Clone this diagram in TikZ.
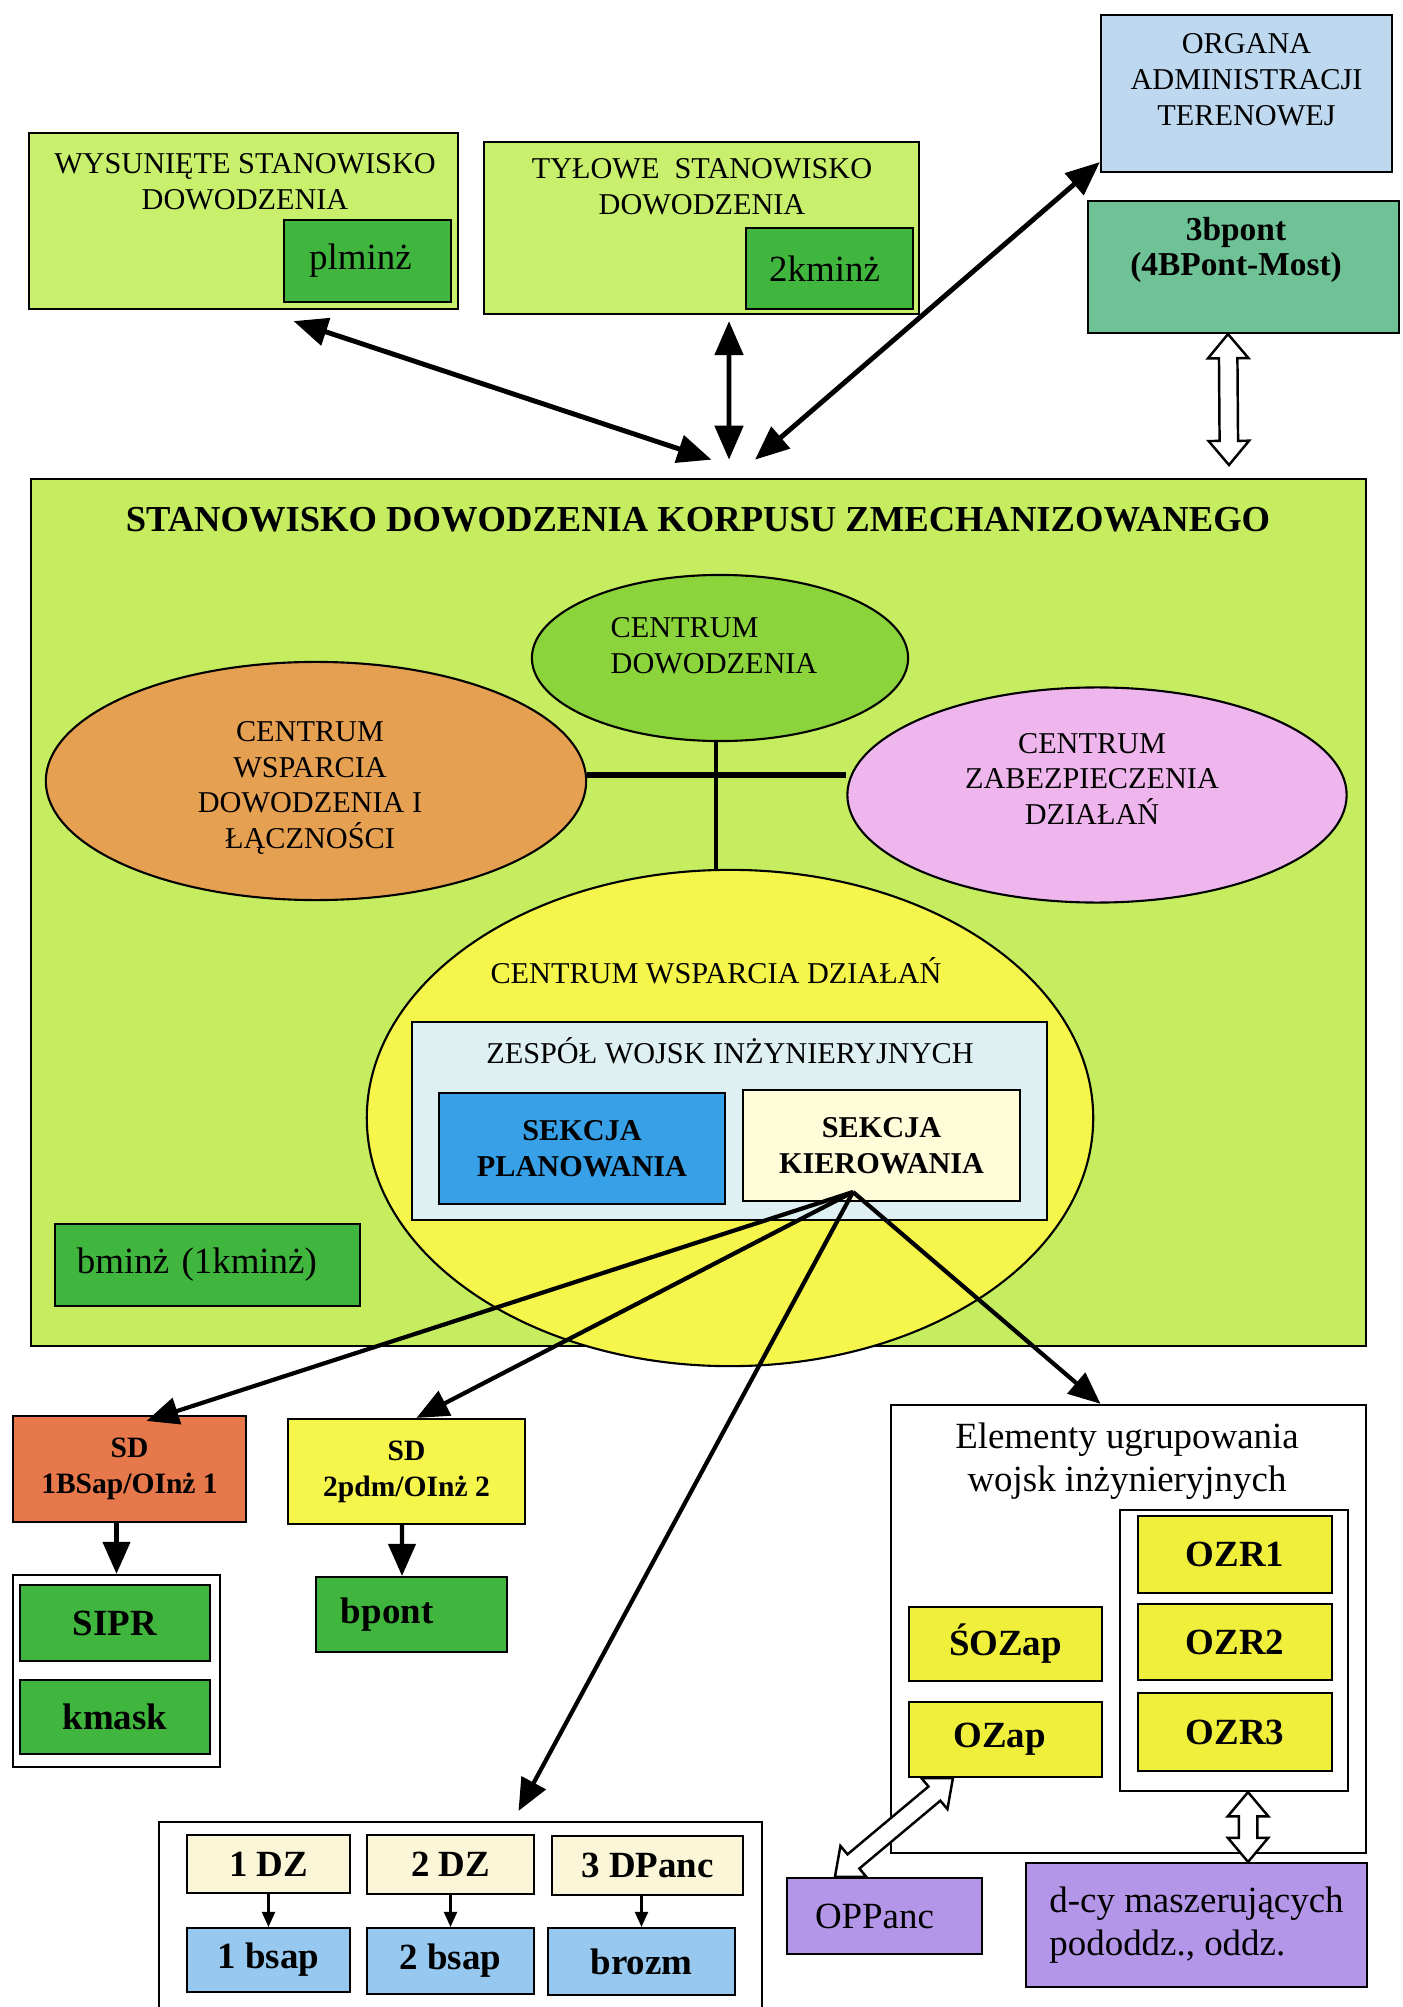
\documentclass[tikz,border=0pt]{standalone}
\usepackage{fontspec}
\setmainfont{Liberation Serif}
\usetikzlibrary{arrows.meta,shapes.geometric,shapes.arrows,calc}

\definecolor{lgreen}{RGB}{200,240,108}
\definecolor{mgreen}{RGB}{197,237,95}
\definecolor{dgreen}{RGB}{64,182,62}
\definecolor{orgblue}{RGB}{190,216,240}
\definecolor{tealgreen}{RGB}{110,194,150}
\definecolor{cdgreen}{RGB}{140,212,60}
\definecolor{corange}{RGB}{230,160,82}
\definecolor{cpink}{RGB}{238,182,236}
\definecolor{cyellow}{RGB}{245,245,75}
\definecolor{zcyan}{RGB}{222,240,242}
\definecolor{sblue}{RGB}{55,160,230}
\definecolor{scream}{RGB}{255,252,218}
\definecolor{sdorange}{RGB}{230,120,75}
\definecolor{byellow}{RGB}{240,240,60}
\definecolor{bsblue}{RGB}{150,200,240}
\definecolor{cpurple}{RGB}{180,150,232}
\definecolor{dzcream}{RGB}{250,246,215}

\tikzset{
  box/.style={draw, line width=0.6pt, inner sep=0pt, align=center},
  ell/.style={ellipse, draw, line width=0.6pt, inner sep=0pt},
  caps/.style={font=\fontsize{8.6}{10.2}\selectfont, align=center},
  lbl/.style={font=\fontsize{10.5}{12.2}\selectfont\bfseries},
  rlbl/.style={font=\fontsize{10.5}{12.2}\selectfont},
  sdlbl/.style={font=\fontsize{8.4}{10.2}\selectfont\bfseries},
  conn/.style={line width=1.4pt},
  arr/.style={line width=1.2pt, -{Triangle[length=0.32cm,width=0.27cm]}},
  dbl/.style={line width=1.4pt, {Triangle[length=0.34cm,width=0.28cm]}-{Triangle[length=0.34cm,width=0.28cm]}},
  sarr/.style={line width=0.6pt, -{Triangle[length=0.15cm,width=0.13cm]}},
  hollow/.style={double arrow, draw, fill=white, line width=0.7pt, inner xsep=0pt,
    inner ysep=0.08cm, double arrow head extend=0.11cm, double arrow tip angle=80}
}

% hollow two-headed arrow between two points
\newcommand\hollowarrow[2]{%
  \path let \p1=(#1), \p2=(#2), \n1={veclen(\x2-\x1,\y2-\y1)} in
    (#1) -- (#2) node[hollow, midway, sloped, minimum height=\n1] {};}

\begin{document}
\begin{tikzpicture}[x=0.01cm, y=-0.01cm]
    \useasboundingbox (0,0) rectangle (1402,2007);

    % Top boxes
    \node[box, fill=orgblue, minimum width=2.91cm, minimum height=1.57cm] (org) at (1246.5,93.5) {};
    \node[caps] (orgt) at (1246.5,80) {ORGANA\\ADMINISTRACJI\\TERENOWEJ};
    \node[box, fill=tealgreen, minimum width=3.11cm, minimum height=1.32cm] (bp3) at (1243.5,267) {};
    \node[font=\fontsize{9.5}{10.2}\selectfont\bfseries, align=center] (bp3t) at (1236,250) {3bpont\\(4BPont-Most)};

    \node[box, fill=lgreen, minimum width=4.29cm, minimum height=1.76cm] (wsd) at (243.5,221) {};
    \node[caps] (wsdt) at (245,182) {WYSUNIĘTE STANOWISKO\\DOWODZENIA};
    \node[box, fill=dgreen, minimum width=1.67cm, minimum height=0.82cm, rlbl] (plm) at (367.5,261) {plminż\hspace{0.14cm}};

    \node[box, fill=lgreen, minimum width=4.35cm, minimum height=1.72cm] (tsd) at (701.5,228) {};
    \node[caps] (tsdt) at (702,187) {TYŁOWE\ \ STANOWISKO\\DOWODZENIA};
    \node[box, fill=dgreen, minimum width=1.67cm, minimum height=0.81cm, rlbl] (km2) at (829.5,268.5) {2kminż\hspace{0.1cm}};

    % Main command post
    \node[box, fill=mgreen, minimum width=13.35cm, minimum height=8.67cm] (main) at (698.5,912.5) {};
    \node[font=\fontsize{10.4}{12}\selectfont\bfseries] (title) at (698,520) {STANOWISKO DOWODZENIA KORPUSU ZMECHANIZOWANEGO};

    % Centres
    \node[ell, fill=cdgreen, minimum width=3.76cm, minimum height=1.66cm] (cd) at (720,658) {};
    \node[caps, align=left] (cdt) at (714,646) {CENTRUM\\DOWODZENIA};
    \node[ell, fill=corange, minimum width=5.40cm, minimum height=2.38cm] (cwdl) at (316,781) {};
    \node[caps] (cwdlt) at (310,788) {CENTRUM\\WSPARCIA\\DOWODZENIA I\\ŁĄCZNOŚCI};
    \node[ell, fill=cpink, minimum width=4.99cm, minimum height=2.15cm] (czd) at (1097,795) {};
    \node[caps] (czdt) at (1092,779) {CENTRUM\\ZABEZPIECZENIA\\DZIAŁAŃ};
    \node[ell, fill=cyellow, minimum width=7.26cm, minimum height=4.96cm] (cwd) at (730,1118) {};
    \node[caps] (cwdt) at (716,971) {CENTRUM WSPARCIA DZIAŁAŃ};

    % Links between centres
    \coordinate (hub) at (716,775);
    \draw[line width=1.8pt] (hub -| cwdl.east) -- (hub -| czd.west);
    \draw[conn] (cd.south -| hub) -- (cwd.north -| hub);

    % Engineer team
    \node[box, fill=zcyan, minimum width=6.35cm, minimum height=1.98cm] (zwi) at (729.5,1121) {};
    \node[caps] (zwit) at (730,1051) {ZESPÓŁ WOJSK INŻYNIERYJNYCH};
    \node[box, fill=sblue, minimum width=2.86cm, minimum height=1.11cm, font=\fontsize{8.6}{10.4}\selectfont\bfseries] (spl) at (582,1148.5) {SEKCJA\\PLANOWANIA};
    \node[box, fill=scream, minimum width=2.77cm, minimum height=1.11cm, font=\fontsize{8.6}{10.4}\selectfont\bfseries] (skr) at (881.5,1145.5) {SEKCJA\\KIEROWANIA};
    \node[box, fill=dgreen, minimum height=0.82cm, rlbl, align=left, inner xsep=0.22cm, text width=2.61cm] (bmz) at (207.5,1265) {bminż (1kminż)};

    % Subordinate units
    \node[box, fill=sdorange, minimum width=2.33cm, minimum height=1.06cm, sdlbl] (sd1) at (129.5,1469) {SD\\1BSap/OInż 1};
    \node[box, fill=cyellow, minimum width=2.37cm, minimum height=1.05cm, sdlbl] (sd2) at (406.5,1471.5) {SD\\2pdm/OInż 2};
    \node[box, fill=white, minimum width=2.07cm, minimum height=1.92cm] (grp1) at (116.5,1671) {};
    \node[box, fill=dgreen, minimum width=1.90cm, minimum height=0.76cm, lbl] (sipr) at (115,1623) {SIPR};
    \node[box, fill=dgreen, minimum width=1.90cm, minimum height=0.74cm, lbl] (kmask) at (115,1717) {kmask};
    \node[box, fill=dgreen, minimum height=0.75cm, lbl, align=left, inner xsep=0.25cm, text width=1.41cm] (bpont) at (411.5,1614.5) {bpont};

    \node[box, fill=white, minimum width=6.03cm, minimum height=1.93cm] (bot) at (460.5,1918.5) {};
    \node[box, fill=dzcream, minimum width=1.63cm, minimum height=0.58cm, lbl] (dz1) at (268.5,1864) {1 DZ};
    \node[box, fill=dzcream, minimum width=1.67cm, minimum height=0.59cm, lbl] (dz2) at (450.5,1864.5) {2 DZ};
    \node[box, fill=dzcream, minimum width=1.91cm, minimum height=0.59cm, lbl] (dp3) at (647.5,1865.5) {3 DPanc};
    \node[box, fill=bsblue, minimum width=1.63cm, minimum height=0.64cm, lbl] (bs1) at (268.5,1960) {1 bsap};
    \node[box, fill=bsblue, minimum width=1.67cm, minimum height=0.66cm, lbl] (bs2) at (450.5,1961) {2 bsap};
    \node[box, fill=bsblue, minimum width=1.87cm, minimum height=0.67cm, lbl] (brz) at (641.5,1961.5) {brozm};

    % Grouping elements
    \node[box, fill=white, minimum width=4.75cm, minimum height=4.48cm] (elem) at (1128.5,1629) {};
    \node[rlbl, align=center] (elemt) at (1127,1461) {Elementy ugrupowania\\wojsk inżynieryjnych};
    \node[box, fill=white, minimum width=2.28cm, minimum height=2.81cm] (ozr) at (1234,1650.5) {};
    \node[box, fill=byellow, minimum width=1.94cm, minimum height=0.77cm, lbl] (ozr1) at (1235,1554.5) {OZR1};
    \node[box, fill=byellow, minimum width=1.94cm, minimum height=0.76cm, lbl] (ozr2) at (1235,1642) {OZR2};
    \node[box, fill=byellow, minimum width=1.94cm, minimum height=0.78cm, lbl] (ozr3) at (1235,1732) {OZR3};
    \node[box, fill=byellow, minimum width=1.93cm, minimum height=0.74cm, lbl] (sozap) at (1005.5,1644) {ŚOZap};
    \node[box, fill=byellow, minimum width=1.93cm, minimum height=0.75cm, lbl] (ozap) at (1005.5,1739.5) {OZap\hspace{0.12cm}};
    \node[box, fill=cpurple, minimum width=1.95cm, minimum height=0.76cm, rlbl] (opp) at (884.5,1916) {OPPanc\hspace{0.2cm}};
    \node[box, fill=cpurple, minimum width=3.41cm, minimum height=1.24cm, font=\fontsize{10.5}{12.4}\selectfont, align=left] (dcy) at (1196.5,1925) {d-cy maszerujących\\pododdz., oddz.};

    % Arrows to the command post
    \draw[dbl] ([xshift=0.5cm,yshift=-0.11cm]wsd.south) -- ([xshift=0.13cm,yshift=0.18cm]main.north);
    \draw[dbl] ([xshift=0.275cm,yshift=-0.06cm]tsd.south) -- ([xshift=0.305cm,yshift=0.18cm]main.north);
    \draw[dbl] ([yshift=0.11cm]org.south west) -- ([xshift=0.565cm,yshift=0.18cm]main.north);
    \coordinate (bpend) at (1229,465);
    \hollowarrow{[xshift=-0.155cm]bp3.south}{bpend}

    % Arrows from SEKCJA KIEROWANIA
    \coordinate (kout) at (853,1192);
    \draw[arr] (kout) -- ([xshift=0.17cm,yshift=-0.06cm]sd1.north);
    \draw[arr] (kout) -- ([xshift=0.1cm]sd2.north);
    \draw[arr] (kout) -- ([xshift=0.58cm,yshift=0.1cm]bot.north);
    \draw[arr] (kout) -- ([xshift=-0.28cm]elem.north);

    % Lower arrows
    \draw[arr] (sd1.south -| grp1.north) -- (grp1.north);
    \draw[arr] ([xshift=-0.045cm]sd2.south) -- ([xshift=-0.095cm]bpont.north);
    \draw[sarr] (dz1.south) -- (dz1.south |- bs1.north);
    \draw[sarr] (dz2.south) -- (dz2.south |- bs2.north);
    \draw[sarr] (brz.north |- dp3.south) -- (brz.north);
    \hollowarrow{[xshift=0.45cm]ozap.south west}{[xshift=0.49cm]opp.north west}
    \hollowarrow{[xshift=0.14cm]ozr.south}{[xshift=0.515cm]dcy.north}

\end{tikzpicture}
\end{document}
